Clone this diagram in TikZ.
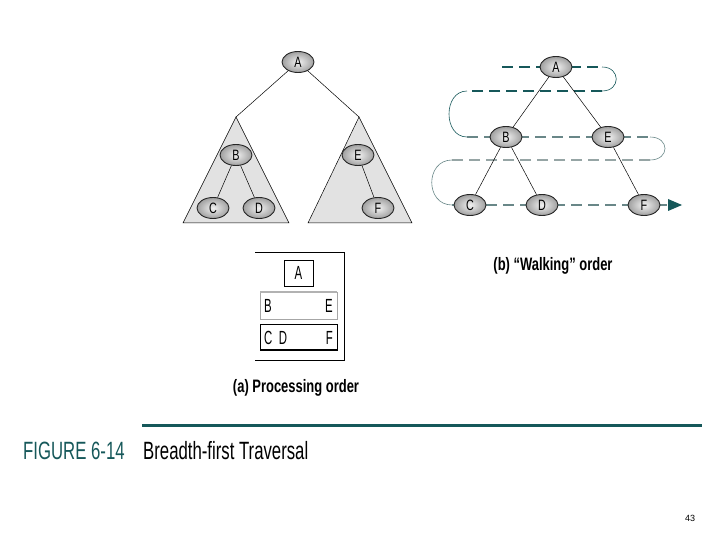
\documentclass[tikz,border=0pt]{standalone}
\usepackage{fontspec}
\setmainfont{Liberation Sans}
\newfontfamily\estrecha[FakeStretch=0.72]{Liberation Sans}
\newfontfamily\titular[FakeStretch=0.67]{Liberation Sans}
\newfontfamily\caja[FakeStretch=0.6]{Liberation Sans}
\newfontfamily\pie[FakeStretch=0.72]{Liberation Sans}
\usetikzlibrary{arrows.meta, calc, positioning, shapes.geometric}
\definecolor{verdeAzul}{RGB}{22,88,90}
\definecolor{grisAzul}{RGB}{105,135,136}
\definecolor{grisClaro}{RGB}{150,165,165}
\definecolor{grisTriangulo}{RGB}{226,226,226}

\begin{document}
\begin{tikzpicture}[x=1pt, y=-1pt,
    nodo/.style={ellipse, draw=black!85, line width=0.9pt, inner color=gray!10,
      outer color=gray!75, minimum width=32pt, minimum height=21pt,
      inner sep=0pt, font=\estrecha\fontsize{15}{15}\selectfont},
    arista/.style={draw=black, line width=0.5pt},
    camino/.style={dash pattern=on 11pt off 6pt, line width=2.2pt},
    vuelta/.style={line width=0.6pt},
    letra/.style={font=\caja\fontsize{19}{19}\selectfont, inner sep=0pt},
    rotulo/.style={font=\pie\bfseries\fontsize{18}{18}\selectfont}]

    % Marco de la página
    \useasboundingbox (0,0) rectangle (720,540);

    % (a) Árbol con subárboles sombreados
    \filldraw[fill=grisTriangulo, arista] (236,117) -- (289,223) -- (183,223) -- cycle;
    \filldraw[fill=grisTriangulo, arista] (359,117) -- (412,223) -- (308,223) -- cycle;
    \coordinate (vIzq) at (236,117);
    \coordinate (vDer) at (359,117);

    \node[nodo] (aA) at (298,62) {A};
    \node[nodo] (aB) at (236,155) {B};
    \node[nodo] (aE) at (358,155) {E};
    \node[nodo] (aC) at (213,208) {C};
    \node[nodo] (aD) at (259,208) {D};
    \node[nodo] (aF) at (378,208) {F};

    \draw[arista] (aA) -- (vIzq);
    \draw[arista] (aA) -- (vDer);
    \draw[arista] (aB) -- (aC);
    \draw[arista] (aB) -- (aD);
    \draw[arista] (aE) -- (aF);

    % (b) Recorrido por niveles (primero el camino, luego el árbol)
    \coordinate (p1) at (502,67);
    \coordinate (p2) at (602,67);
    \coordinate (p3) at (602,91);
    \coordinate (p4) at (467,91);
    \coordinate (p5) at (467,137);
    \coordinate (p6) at (650,137);
    \coordinate (p7) at (650,160);
    \coordinate (p8) at (452,160);
    \coordinate (p9) at (452,205);
    \coordinate (fin) at (682,205);

    \draw[camino, verdeAzul] (p1) -- (p2);
    \draw[vuelta, verdeAzul] (p2) .. controls (621,67) and (621,91) .. (p3);
    \draw[camino, verdeAzul] (p3) -- (p4);
    \draw[vuelta, verdeAzul] (p4) .. controls (443,91) and (443,137) .. (p5);
    \draw[camino, grisAzul, line width=1.5pt] (p5) -- (p6);
    \draw[vuelta, grisAzul] (p6) .. controls (670,137) and (670,160) .. (p7);
    \draw[camino, grisClaro, line width=1.5pt] (p7) -- (p8);
    \draw[vuelta, grisAzul] (p8) .. controls (425,160) and (425,205) .. (p9);
    \draw[camino, grisAzul, line width=2pt] (p9) -- ($(fin)+(-13,0)$);
    \fill[verdeAzul] (fin) -- ++(-14,-6) -- ++(0,12) -- cycle;

    \node[nodo] (bA) at (556,67) {A};
    \node[nodo] (bB) at (506,137) {B};
    \node[nodo] (bE) at (608,137) {E};
    \node[nodo] (bC) at (470,205) {C};
    \node[nodo] (bD) at (542,205) {D};
    \node[nodo] (bF) at (644,205) {F};

    \draw[arista] (bA) -- (bB);
    \draw[arista] (bA) -- (bE);
    \draw[arista] (bB) -- (bC);
    \draw[arista] (bB) -- (bD);
    \draw[arista] (bE) -- (bF);

    % Cola de procesamiento
    \draw[arista, line width=0.7pt] (255,252) -- (344,252) -- (344,360) -- (255,360);
    \draw[arista, line width=0.7pt] (284,260) rectangle (313,286);
    \draw[draw=gray!70, line width=0.7pt] (260,292) rectangle (337,319);
    \draw[draw=gray!60, line width=2pt] (260,292) -- (337,292);
    \draw[arista, line width=0.7pt] (260,324) rectangle (337,350);
    \draw[draw=black, line width=2pt] (260,350) -- (337,350);

    \node[letra] (qA) at (298.5,273) {A};
    \node[letra, anchor=west] (qB) at (264,305.5) {B};
    \node[letra, anchor=east] (qE) at (333,305.5) {E};
    \node[letra, anchor=west] (qC) at (264,337.5) {C\,\,D};
    \node[letra, anchor=east] (qF) at (333,337.5) {F};

    % Rótulos de los dos apartados
    \node[rotulo] (rotA) at (296,388) {(a) Processing order};
    \node[rotulo] (rotB) at (553,266) {(b) “Walking” order};

    % Pie de figura
    \draw[verdeAzul, line width=3pt] (142,425) -- (702,425);
    \node[anchor=base west, inner sep=0pt, text=verdeAzul,
      font=\titular\fontsize{25}{25}\selectfont] (figura) at (23,459) {FIGURE 6-14};
    \node[anchor=base west, inner sep=0pt,
      font=\titular\fontsize{25}{25}\selectfont] (titulo) at (143,459) {Breadth-first Traversal};

    % Número de página
    \node[font=\fontsize{9}{9}\selectfont] (pagina) at (690,518) {43};
\end{tikzpicture}
\end{document}
